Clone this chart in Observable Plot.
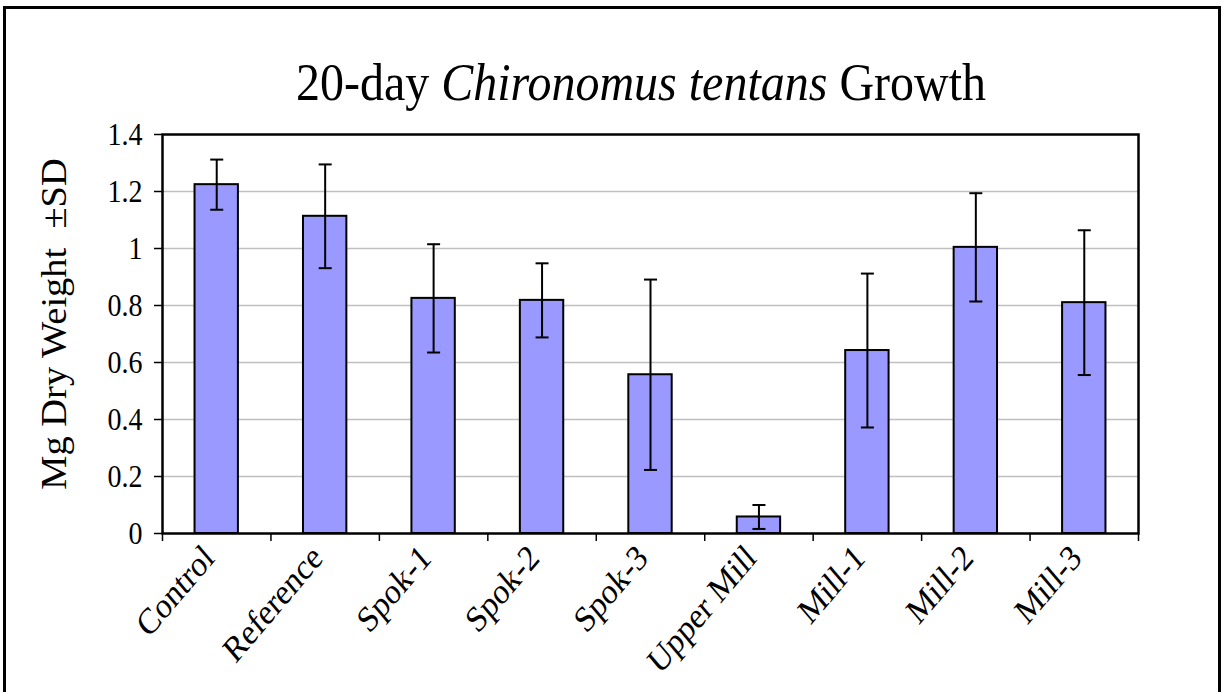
<!DOCTYPE html>
<html>
<head>
<meta charset="utf-8">
<script src="https://cdn.jsdelivr.net/npm/d3@7"></script>
<script src="https://cdn.jsdelivr.net/npm/@observablehq/plot@0.6"></script>
<style>
  html, body { margin: 0; padding: 0; background: #fff; }
  #wrap { position: relative; width: 1225px; height: 692px; overflow: hidden; background: #fff; }
  #border { position: absolute; left: 3px; top: 6px; width: 1218px; height: 720px; box-sizing: border-box; border: 3px solid #000; }
  #title { position: absolute; left: 0; width: 1282px; top: 51px; text-align: center; font-family: "Liberation Serif", "Times New Roman", serif; font-size: 48px; line-height: 56px; color: #000; transform: scaleY(1.12); transform-origin: center top; white-space: nowrap; }
  #chart { position: absolute; left: 0; top: 0; }
  #chart svg text { font-family: "Liberation Serif", "Times New Roman", serif; }
</style>
</head>
<body>
<div id="wrap">
  <div id="border"></div>
  <div id="chart"></div>
  <div id="title">20-day <i>Chironomus tentans</i> Growth</div>
</div>
<script>
const categories = ["Control", "Reference", "Spok-1", "Spok-2", "Spok-3", "Upper Mill", "Mill-1", "Mill-2", "Mill-3"];
const means = [1.224, 1.113, 0.825, 0.818, 0.557, 0.058, 0.642, 1.004, 0.810];
const sds = [0.088, 0.182, 0.190, 0.130, 0.334, 0.042, 0.270, 0.190, 0.254];
const yTicks = [0, 0.2, 0.4, 0.6, 0.8, 1.0, 1.2, 1.4];
const yTickLabels = ["0", "0.2", "0.4", "0.6", "0.8", "1", "1.2", "1.4"];
const yLabel = "Mg Dry Weight  \u00b1SD";

const data = categories.map((c, i) => ({
  cat: c, idx: i, pos: i + 0.5, mean: means[i], lo: means[i] - sds[i], hi: means[i] + sds[i]
}));
const boundaries = d3.range(0, categories.length + 1);
const centers = data.map(d => d.pos);
const halfBar = 0.2, halfCap = 0.06;
const serif = "'Liberation Serif', 'Times New Roman', serif";

const chart = Plot.plot({
  width: 1225,
  height: 692,
  marginLeft: 162,
  marginRight: 87,
  marginTop: 134,
  marginBottom: 159,
  style: { fontFamily: serif, fontSize: "28px", color: "#000", background: "transparent", overflow: "visible" },
  x: { type: "linear", domain: [0, categories.length] },
  y: { domain: [0, 1.4] },
  marks: [
    Plot.gridY(yTicks.slice(1, -1), { stroke: "#c0c0c0", strokeOpacity: 1, strokeWidth: 1.3 }),
    Plot.rectY(data, { x1: d => d.pos - halfBar, x2: d => d.pos + halfBar, y1: 0, y2: "mean", fill: "#9999ff", stroke: "#000", strokeWidth: 2 }),
    Plot.ruleX(data, { x: "pos", y1: "lo", y2: "hi", stroke: "#000", strokeWidth: 2 }),
    Plot.link(data, { x1: d => d.pos - halfCap, x2: d => d.pos + halfCap, y1: "hi", y2: "hi", stroke: "#000", strokeWidth: 2 }),
    Plot.link(data, { x1: d => d.pos - halfCap, x2: d => d.pos + halfCap, y1: "lo", y2: "lo", stroke: "#000", strokeWidth: 2 }),
    Plot.frame({ stroke: "#000", strokeWidth: 2.5 }),
    Plot.axisY({ ticks: yTicks, tickFormat: (d, i) => yTickLabels[i], tickSize: 8, tickPadding: 12, label: null, strokeWidth: 1.5, fontSize: 28, fontFamily: serif }),
    Plot.axisX({ ticks: boundaries, tickFormat: () => "", tickSize: 8, label: null, strokeWidth: 1.5 }),
    Plot.axisX({ ticks: centers, tickFormat: d => categories[Math.round(d - 0.5)], tickSize: 0, tickPadding: 18, tickRotate: -45, label: null, fontSize: 31, fontFamily: serif, dx: -8 }),
    Plot.text([yLabel], { frameAnchor: "left", textAnchor: "middle", text: d => d, rotate: -90, dx: -108, dy: -10, fontSize: 35, fontFamily: serif })
  ]
});

// Stretch text vertically to mimic the reference's taller glyphs
function stretchY(selector, s) {
  chart.querySelectorAll(selector).forEach(el => {
    const t = el.getAttribute("transform") || "";
    if (t.includes("rotate(")) {
      el.setAttribute("transform", t.replace("rotate(", `scale(1,${s}) rotate(`));
    } else if (t) {
      el.setAttribute("transform", `${t} scale(1,${s})`);
    }
  });
}
stretchY('g[aria-label="y-axis tick label"] text', 1.15);
stretchY('g[aria-label="x-axis tick label"] text', 1.18);
stretchY('g[aria-label="text"] text', 1.1);

document.getElementById("chart").appendChild(chart);
</script>
</body>
</html>
